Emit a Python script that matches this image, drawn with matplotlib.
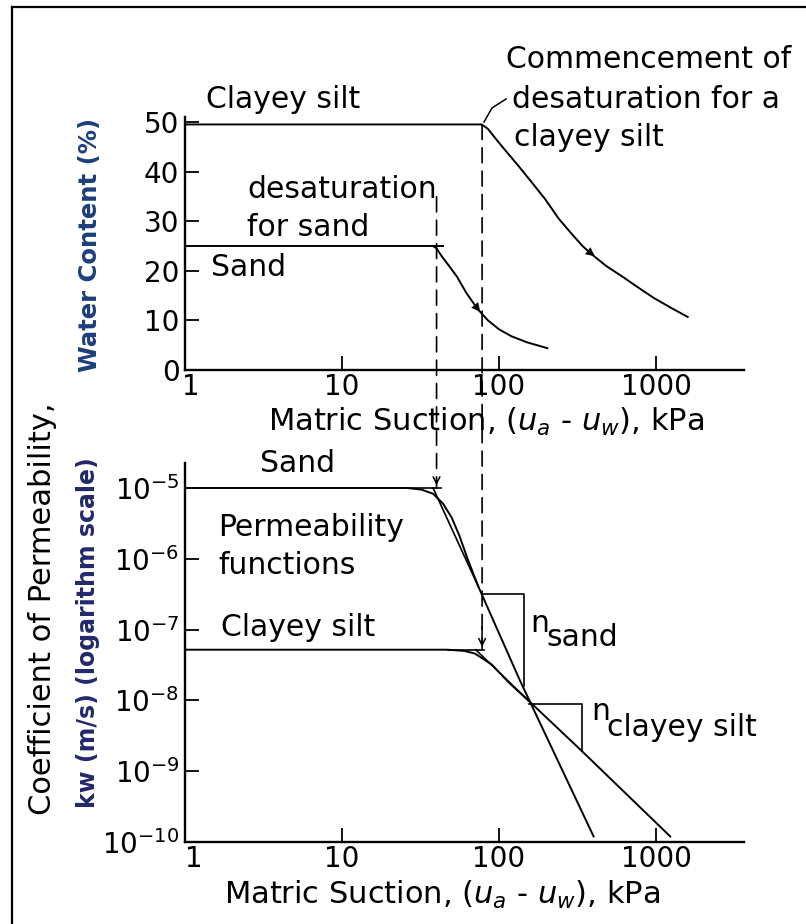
import matplotlib
matplotlib.use("Agg")
import matplotlib.pyplot as plt
from matplotlib.lines import Line2D
from matplotlib.patches import ConnectionPatch
from matplotlib.transforms import ScaledTranslation

W, H = 806, 924

# water content curves (top panel)
suction_silt_w = [1, 77, 80, 85, 90, 100, 115, 134, 160, 196, 240, 289, 340, 390,
                  480, 612, 780, 970, 1250, 1590]
water_silt = [49.5, 49.5, 49.2, 48.6, 47.6, 45.8, 43.5, 41.0, 38.0, 34.5, 30.5, 27.5,
              25.0, 23.3, 21.0, 18.8, 16.5, 14.5, 12.5, 10.7]
suction_sand_w = [1, 38, 40, 43, 48, 54, 62, 73, 85, 100, 120, 150, 203]
water_sand = [25, 25, 24.5, 23.0, 21.0, 18.8, 15.5, 12.3, 10.0, 8.2, 6.8, 5.6, 4.4]

# permeability functions (bottom panel)
suction_sand_k = [1, 26, 32, 38, 44, 50, 56, 63, 74, 136, 400]
k_sand = [1e-5, 1e-5, 9.5e-6, 8.3e-6, 6.0e-6, 3.8e-6, 2.1e-6, 1.0e-6, 4.0e-7,
          1.9e-8, 1.2e-10]
suction_silt_k = [1, 47, 60, 70, 80, 90, 100, 115, 130, 155, 339, 1230]
k_silt = [5.2e-8, 5.2e-8, 5.0e-8, 4.6e-8, 3.8e-8, 3.2e-8, 2.5e-8, 1.8e-8, 1.4e-8,
          9.8e-9, 1.9e-9, 1.2e-10]

# tangent construction lines and slope triangles
sand_flat_x, sand_flat_k = [26, 43], [1e-5, 1e-5]
sand_steep_x, sand_steep_k = [38, 74], [1e-5, 4.0e-7]
silt_flat_x, silt_flat_k = [47, 80], [5.2e-8, 5.2e-8]
silt_steep_x, silt_steep_k = [71, 155], [5.2e-8, 9.8e-9]
tri_sand_x, tri_sand_k = [78, 145, 145], [3.2e-7, 3.2e-7, 1.6e-8]
tri_silt_x, tri_silt_k = [155, 339, 339], [8.9e-9, 8.9e-9, 1.9e-9]

sand_air_entry = 40
silt_air_entry = 78

x_ticks = [1, 10, 100, 1000]
x_tick_labels = ["1", "10", "100", "1000"]
w_ticks = [0, 10, 20, 30, 40, 50]
k_ticks = [1e-5, 1e-6, 1e-7, 1e-8, 1e-9, 1e-10]
k_tick_labels = [r"$\mathregular{10^{-5}}$", r"$\mathregular{10^{-6}}$", r"$\mathregular{10^{-7}}$",
                 r"$\mathregular{10^{-8}}$", r"$\mathregular{10^{-9}}$", r"$\mathregular{10^{-10}}$"]


def fx(x):
    return x / W


def fy(y):
    return 1 - y / H


fig = plt.figure(figsize=(W / 100, H / 100), dpi=100)
fig.patch.set_facecolor("white")

LEFT, RIGHT = 185, 744
ax1 = fig.add_axes([fx(LEFT), fy(370), (RIGHT - LEFT) / W, (370 - 117) / H])
ax2 = fig.add_axes([fx(LEFT), fy(842), (RIGHT - LEFT) / W, (842 - 463) / H])

for ax in (ax1, ax2):
    ax.set_xscale("log")
    ax.set_xlim(1, 10 ** 3.56)
    ax.spines["top"].set_visible(False)
    ax.spines["right"].set_visible(False)
    ax.spines["left"].set_linewidth(1.7)
    ax.spines["bottom"].set_linewidth(1.7)
    ax.set_xticks(x_ticks)
    ax.set_xticklabels(x_tick_labels)
    ax.minorticks_off()
    ax.tick_params(direction="in", length=10, width=1.3, labelsize=20, pad=2)
    ax.tick_params(axis="y", pad=4)
    ax.patch.set_alpha(0)

lw = 1.4
ax1.set_ylim(0, 51)
ax1.set_yticks(w_ticks)
ax1.plot(suction_silt_w, water_silt, color="black", lw=lw)
ax1.plot(suction_sand_w, water_sand, color="black", lw=lw)
ax1.plot([38, 44], [25, 25], color="black", lw=lw)
ax1.annotate("", xy=(420, 22.6), xytext=(372, 23.9),
             arrowprops=dict(arrowstyle="-|>", color="black", lw=0, mutation_scale=16))
ax1.annotate("", xy=(78, 11.3), xytext=(70, 13.1),
             arrowprops=dict(arrowstyle="-|>", color="black", lw=0, mutation_scale=16))

ax2.set_yscale("log")
ax2.set_ylim(1e-10, 10 ** -4.647)
ax2.set_yticks(k_ticks)
ax2.set_yticklabels(k_tick_labels)
ax2.minorticks_off()
ax2.plot(suction_sand_k, k_sand, color="black", lw=lw)
ax2.plot(suction_silt_k, k_silt, color="black", lw=lw)
for xs, ks in [(sand_flat_x, sand_flat_k), (sand_steep_x, sand_steep_k),
               (silt_flat_x, silt_flat_k), (silt_steep_x, silt_steep_k),
               (tri_sand_x, tri_sand_k), (tri_silt_x, tri_silt_k)]:
    ax2.plot(xs, ks, color="black", lw=1.2)

# the "1" labels sit a little right of the corner in the original
for ax, shift in [(ax1, 6), (ax2, 9)]:
    lab = ax.get_xticklabels()[0]
    lab.set_transform(lab.get_transform() + ScaledTranslation(shift / 100, 0, fig.dpi_scale_trans))

# dashed lines running from the water content curves down to the permeability curves
for xa, ya, yb in [(sand_air_entry, 34.9, 1e-5), (silt_air_entry, 49.5, 5.2e-8)]:
    con = ConnectionPatch(xyA=(xa, ya), coordsA=ax1.transData,
                          xyB=(xa, yb), coordsB=ax2.transData,
                          color="black", lw=1.2, linestyle=(0, (9, 5)))
    fig.add_artist(con)
ax2.annotate("", xy=(sand_air_entry, 1e-5), xytext=(sand_air_entry, 1.4e-5),
             arrowprops=dict(arrowstyle="->", color="black", lw=1.1, mutation_scale=12))
ax2.annotate("", xy=(silt_air_entry, 5.2e-8), xytext=(silt_air_entry, 1.2e-7),
             arrowprops=dict(arrowstyle="->", color="black", lw=1.1, mutation_scale=12))

# leader line
fig.add_artist(Line2D([fx(484), fx(492), fx(506)], [fy(122), fy(108), fy(99)],
                      color="black", lw=1.1))

fs = 21.5
txt = dict(fontsize=fs, color="black", va="center", ha="left")
fig.text(fx(506), fy(60), "Commencement of", **txt)
fig.text(fx(512), fy(100), "desaturation for a", **txt)
fig.text(fx(514), fy(138), "clayey silt", **txt)
fig.text(fx(206), fy(100), "Clayey silt", **txt)
fig.text(fx(247), fy(190), "desaturation", **txt)
fig.text(fx(247), fy(227), "for sand", **txt)
fig.text(fx(211), fy(268), "Sand", **txt)

fig.text(fx(260), fy(463), "Sand", **txt)
fig.text(fx(218), fy(527), "Permeability", **txt)
fig.text(fx(218), fy(565), "functions", **txt)
fig.text(fx(221), fy(627), "Clayey silt", **txt)
fig.text(fx(530), fy(623), "n", **txt)
fig.text(fx(546), fy(638), "sand", **txt)
fig.text(fx(591), fy(712), "n", **txt)
fig.text(fx(607), fy(727), "clayey silt", **txt)

xlabel = r"Matric Suction, ($u_a$ - $u_w$), kPa"
fig.text(fx(486), fy(406), xlabel, fontsize=22, ha="center", va="top")
fig.text(fx(442), fy(879), xlabel, fontsize=22, ha="center", va="top")

fig.text(fx(90), fy(245), "Water Content (%)", fontsize=17.5, fontweight="bold",
         color="#1c3f7c", rotation=90, ha="center", va="center")
fig.text(fx(43), fy(609), "Coefficient of Permeability,", fontsize=22,
         rotation=90, ha="center", va="center")
fig.text(fx(88), fy(633), "kw (m/s) (logarithm scale)", fontsize=17, fontweight="bold",
         color="#22286a", rotation=90, ha="center", va="center")

# frame lines of the scanned figure
fig.add_artist(Line2D([fx(12), fx(12)], [fy(7), fy(924)], color="black", lw=1.6))
fig.add_artist(Line2D([fx(12), fx(806)], [fy(7), fy(7)], color="black", lw=1.6))

fig.savefig("out.png", dpi=100)
